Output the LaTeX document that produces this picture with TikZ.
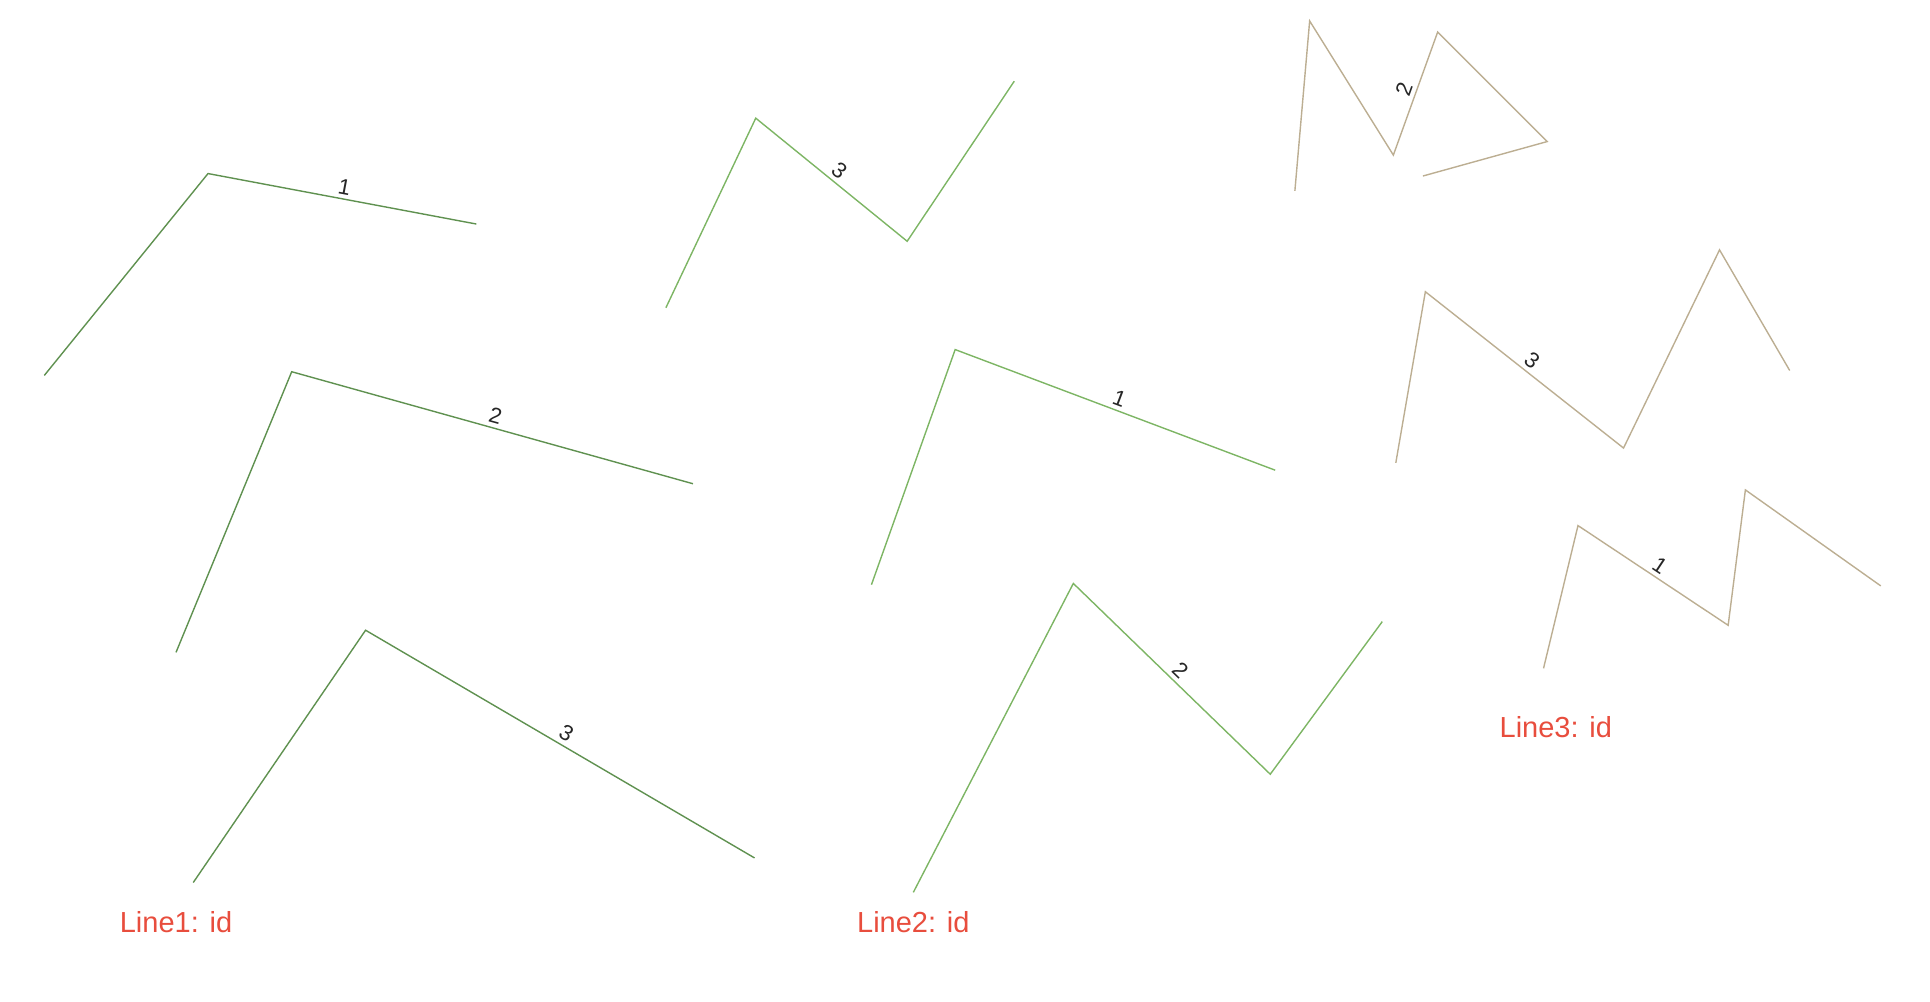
\documentclass[tikz,border=0pt]{standalone}
\usepackage{fontspec}
\setmainfont{Liberation Sans}
\definecolor{gA}{HTML}{5F9150}
\definecolor{gB}{HTML}{7DB564}
\definecolor{tC}{HTML}{BCAE92}
\definecolor{redtxt}{HTML}{E84D3D}
\tikzset{
  lineA/.style={draw=gA, line width=1.4pt, line join=miter},
  lineB/.style={draw=gB, line width=1.4pt, line join=miter},
  lineC/.style={draw=tC, line width=1.4pt, line join=miter},
  idlab/.style={sloped, above, inner sep=4pt, font=\fontsize{22}{22}\selectfont, text=black!85},
  grouplab/.style={font=\fontsize{29}{29}\selectfont, text=redtxt}
}
\begin{document}
\begin{tikzpicture}[x=1.2309pt, y=-1.2309pt]
\useasboundingbox (0,0) rectangle (1568,814);
% Line1
\draw[lineA] (36,305) -- (169,141) -- node[idlab] (l1a) {1} (387,182);
\draw[lineA] (143,530) -- (237,302) -- node[idlab] (l1b) {2} (563,393);
\draw[lineA] (157,717) -- (297,512) -- node[idlab] (l1c) {3} (613,697);
\node[grouplab] (t1) at (143,749) {Line1: id};
% Line2
\draw[lineB] (541,250) -- (614,96) -- node[idlab] (l2c) {3} (737,196) -- (824,66);
\draw[lineB] (708,475) -- (776,284) -- node[idlab] (l2a) {1} (1036,382);
\draw[lineB] (742,725) -- (872,474) -- node[idlab] (l2b) {2} (1032,629) -- (1123,505);
\node[grouplab] (t2) at (742,749) {Line2: id};
% Line3
\draw[lineC] (1052,155) -- (1064,17) -- (1132,126) -- node[idlab] (l3b) {2} (1168,26) -- (1257,115) -- (1156,143);
\draw[lineC] (1134,376) -- (1158,237) -- node[idlab] (l3c) {3} (1319,364) -- (1397,203) -- (1454,301);
\draw[lineC] (1254,543) -- (1282,427) -- node[idlab] (l3a) {1} (1404,508) -- (1418,398) -- (1528,476);
\node[grouplab] (t3) at (1264,591) {Line3: id};
\end{tikzpicture}
\end{document}
